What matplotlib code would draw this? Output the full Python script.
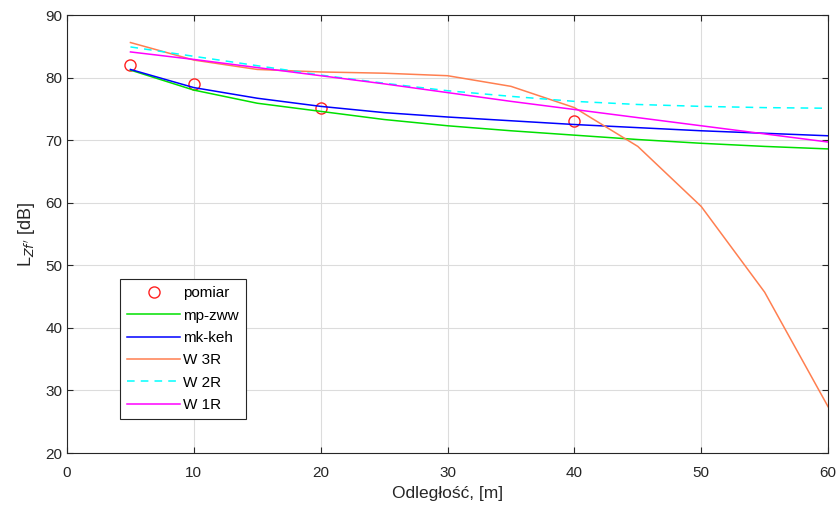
import matplotlib.pyplot as plt

plt.rcParams['font.family'] = ['Liberation Sans', 'DejaVu Sans']

# measured points
x_pom = [5, 10, 20, 40]
y_pom = [82.0, 79.0, 75.2, 73.0]

# model curves
x = [5, 10, 15, 20, 25, 30, 35, 40, 45, 50, 55, 60]
mp_zww = [81.2, 78.0, 75.9, 74.6, 73.3, 72.3, 71.5, 70.8, 70.1, 69.5, 69.0, 68.6]
mk_keh = [81.3, 78.4, 76.7, 75.4, 74.4, 73.7, 73.1, 72.5, 72.0, 71.5, 71.1, 70.7]
w3r = [85.6, 82.8, 81.3, 80.9, 80.7, 80.3, 78.6, 75.2, 69.0, 59.4, 45.7, 27.4]
w2r = [84.9, 83.4, 81.9, 80.4, 79.1, 77.9, 77.0, 76.2, 75.7, 75.4, 75.2, 75.1]
w1r = [84.1, 82.9, 81.6, 80.3, 79.0, 77.6, 76.2, 74.9, 73.6, 72.3, 71.0, 69.7]

fig = plt.figure(figsize=(8.4, 5.09), dpi=100)
ax = fig.add_axes([0.0798, 0.110, 0.906, 0.8605])

ax.plot(x_pom, y_pom, 'o', mfc='none', mec='#ff2020', ms=8, mew=1.0, label='pomiar')
ax.plot(x, mp_zww, color='#00e000', lw=1.1, label='mp-zww')
ax.plot(x, mk_keh, color='#0000ff', lw=1.1, label='mk-keh')
ax.plot(x, w3r, color='#ff7f50', lw=1.1, label='W 3R')
ax.plot(x, w2r, color='#00ffff', lw=1.1, ls=(0, (5, 4)), label='W 2R')
ax.plot(x, w1r, color='#ff00ff', lw=1.1, label='W 1R')

ax.set_xlim(0, 60)
ax.set_ylim(20, 90)
ax.set_xticks(range(0, 61, 10))
ax.set_yticks(range(20, 91, 10))
ax.grid(True, color='#dcdcdc', lw=0.8)
ax.tick_params(direction='in', top=True, right=True, labelsize=11, colors='#262626', length=4)
ax.tick_params(axis='x', pad=9)
for s in ax.spines.values():
    s.set_color('#262626')
    s.set_linewidth(0.8)

ax.set_xlabel('Odległość, [m]', fontsize=12.5, color='#262626', labelpad=5)
ax.set_ylabel("L$_{Zf'}$ [dB]", fontsize=13, color='#262626', labelpad=6)

leg = ax.legend(loc='lower left', bbox_to_anchor=(0.0696, 0.0776), borderaxespad=0,
                fontsize=11, fancybox=False, framealpha=1, edgecolor='#262626',
                handlelength=3.5, handletextpad=0.2, labelspacing=0.55, borderpad=0.45)
leg.get_frame().set_linewidth(0.8)

fig.savefig('out.png', dpi=100)
